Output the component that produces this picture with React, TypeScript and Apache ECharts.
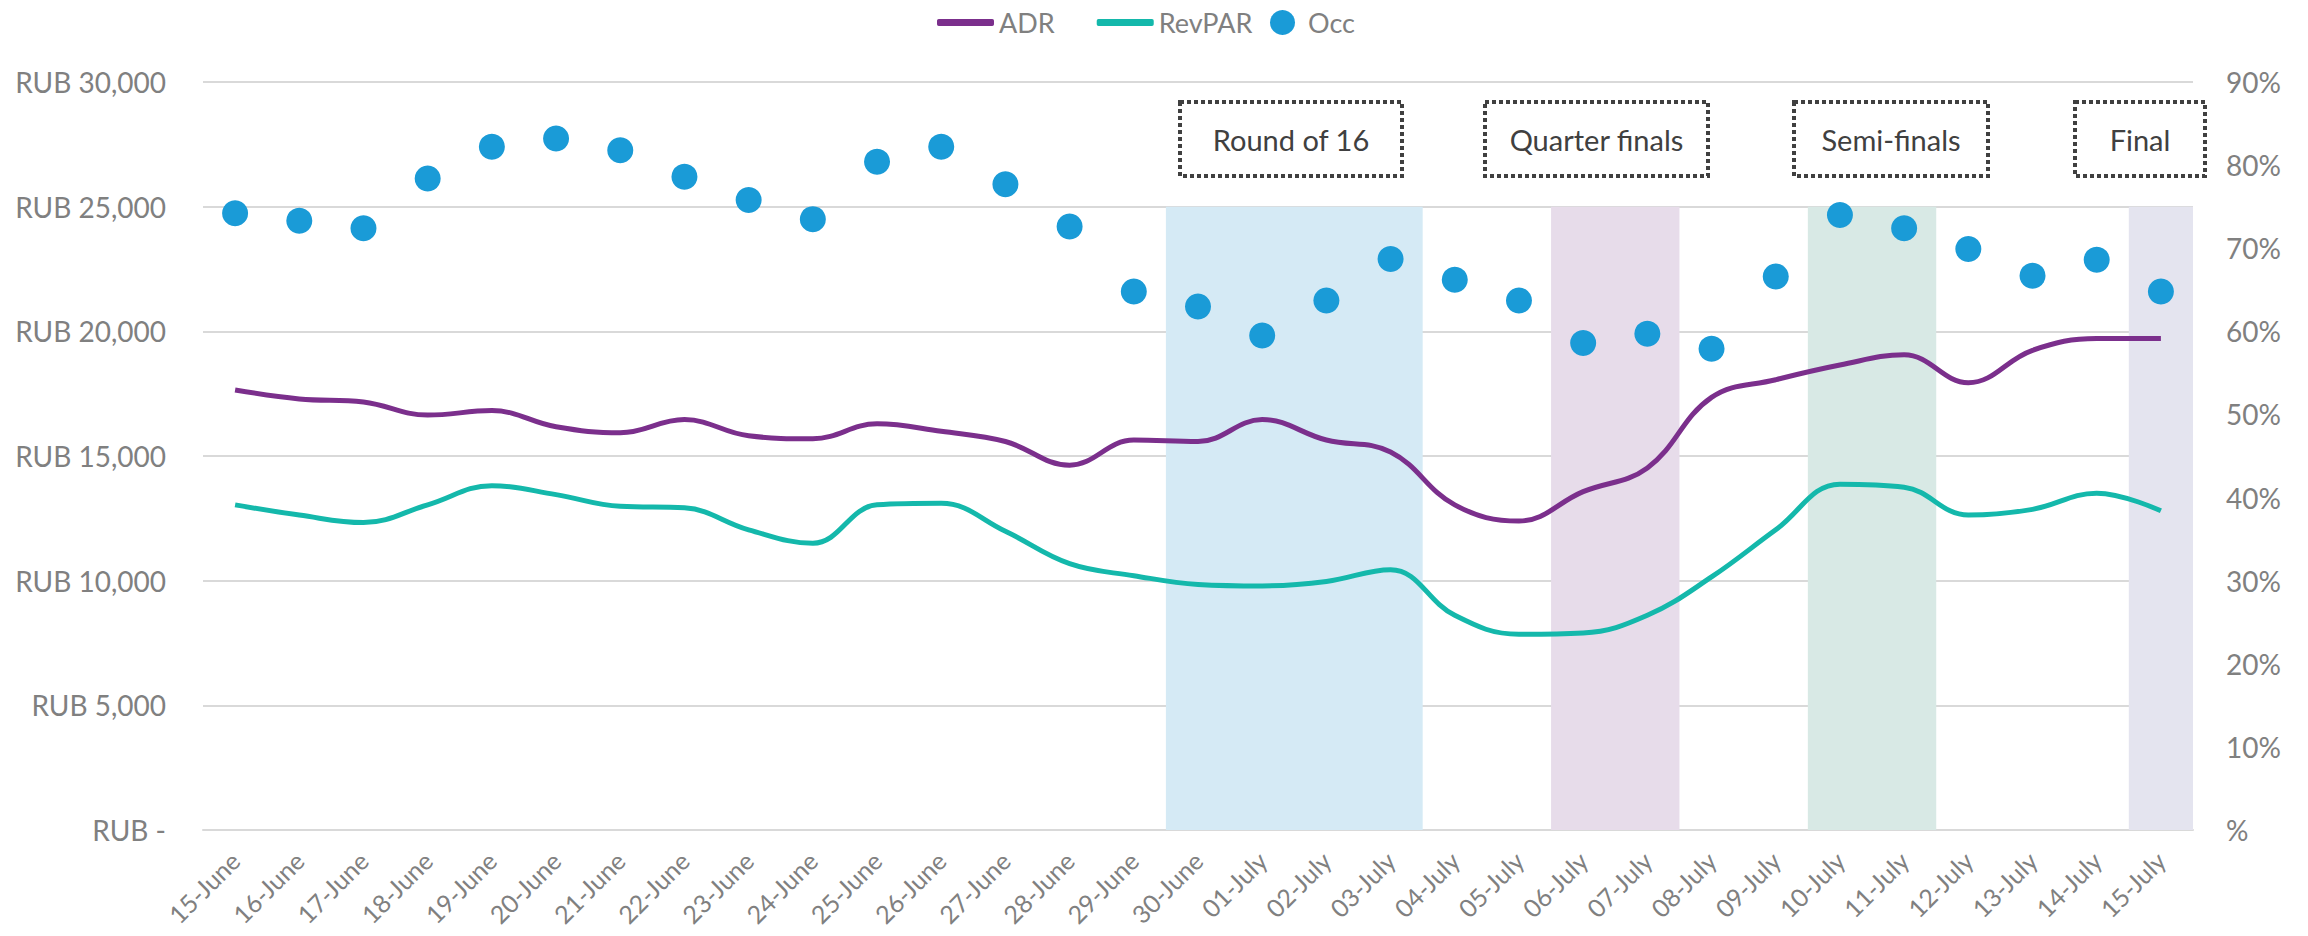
import React, { useEffect, useRef } from 'react';
import * as echarts from 'echarts';

const categories = [
  '15-June', '16-June', '17-June', '18-June', '19-June', '20-June', '21-June', '22-June',
  '23-June', '24-June', '25-June', '26-June', '27-June', '28-June', '29-June', '30-June',
  '01-July', '02-July', '03-July', '04-July', '05-July', '06-July', '07-July', '08-July',
  '09-July', '10-July', '11-July', '12-July', '13-July', '14-July', '15-July',
];

const adr = [
  17650, 17290, 17170, 16640, 16820, 16170, 15930, 16460, 15810, 15690, 16290, 15990,
  15580, 14630, 15640, 15580, 16460, 15640, 15160, 13040, 12390, 13570, 14520, 17350,
  18060, 18650, 19060, 17940, 19240, 19710, 19710,
];

const revpar = [
  13040, 12630, 12330, 13040, 13810, 13450, 12980, 12920, 12040, 11500, 13040, 13100,
  11980, 10680, 10200, 9850, 9790, 9970, 10440, 8610, 7850, 7900, 8610, 10150,
  12040, 13870, 13750, 12630, 12860, 13510, 12800,
];

const occ = [
  74.2, 73.3, 72.4, 78.4, 82.2, 83.2, 81.8, 78.6, 75.8, 73.5, 80.4, 82.2,
  77.7, 72.6, 64.8, 63.0, 59.5, 63.7, 68.7, 66.2, 63.7, 58.6, 59.7, 57.9,
  66.6, 74.0, 72.4, 69.9, 66.7, 68.6, 64.8,
];

const phaseNames = ['Round of 16', 'Quarter finals', 'Semi-finals', 'Final'];
const phaseStart = ['30-June', '06-July', '10-July', '15-July'];
const phaseEnd = ['03-July', '07-July', '11-July', '15-July'];
const phaseTop = 25000;

const leftTicks = { min: 0, max: 30000, interval: 5000 };
const rightTicks = { min: 0, max: 90, interval: 10 };

// styling / layout (not data)
const phaseColors = ['#d5eaf5', '#e7dcea', '#d8e9e5', '#e4e4ef'];
const boxLayout = [
  { x: 1180, w: 222 },
  { x: 1485, w: 223 },
  { x: 1794, w: 194 },
  { x: 2075, w: 130 },
];
const BOX_Y = 102;
const BOX_H = 74;
const FONT = 'Lato, "Noto Sans", sans-serif';
const GRAY = '#808080';

export default function App() {
  const ref = useRef<HTMLDivElement>(null);

  useEffect(() => {
    if (!ref.current) return;
    const chart = echarts.init(ref.current, undefined, { renderer: 'svg' });

    const markData = phaseNames.map((name, i) => {
      const s = categories.indexOf(phaseStart[i]);
      const e = categories.indexOf(phaseEnd[i]);
      return [
        { name, xAxis: s, yAxis: 0, itemStyle: { color: phaseColors[i] } },
        { xAxis: e + 1, yAxis: phaseTop },
      ];
    });

    const graphic: any[] = [];
    phaseNames.forEach((name, i) => {
      const b = boxLayout[i];
      graphic.push({
        type: 'rect',
        shape: { x: b.x, y: BOX_Y, width: b.w, height: BOX_H },
        style: { fill: 'rgba(255,255,255,0)', stroke: '#404040', lineWidth: 4, lineDash: [4, 3] },
        z: 10,
      });
      graphic.push({
        type: 'text',
        x: b.x + b.w / 2,
        y: BOX_Y + BOX_H / 2,
        style: {
          text: name,
          fill: '#404040',
          font: `29px ${FONT}`,
          align: 'center',
          verticalAlign: 'middle',
          textAlign: 'center',
          textVerticalAlign: 'middle',
        },
        z: 10,
      });
    });

    chart.setOption({
      animation: false,
      backgroundColor: '#ffffff',
      textStyle: { fontFamily: FONT },
      legend: [
        {
          data: [
            { name: 'ADR', icon: 'roundRect', itemStyle: { color: '#7b2f8c' } },
            { name: 'RevPAR', icon: 'roundRect', itemStyle: { color: '#14b8ab' } },
          ],
          left: 932,
          top: 4,
          itemWidth: 57,
          itemHeight: 7,
          itemGap: 42,
          textStyle: { color: GRAY, fontSize: 27, fontFamily: FONT },
        },
        {
          data: ['Occ'],
          left: 1265,
          top: 4,
          itemWidth: 25,
          itemHeight: 25,
          icon: 'circle',
          textStyle: { color: GRAY, fontSize: 27, fontFamily: FONT, padding: [0, 0, 0, 8] },
        },
      ],
      grid: {
        left: 203,
        right: 115,
        top: 82,
        bottom: 106,
        containLabel: false,
        outerBoundsMode: 'none',
      },
      xAxis: [
        {
          type: 'category',
          data: categories,
          boundaryGap: true,
          axisLine: { lineStyle: { color: '#d9d9d9', width: 2 } },
          axisTick: { show: false },
          axisLabel: {
            rotate: 45,
            interval: 0,
            margin: 26,
            color: GRAY,
            fontSize: 25,
            fontFamily: FONT,
          },
          splitLine: { show: false },
        },
        {
          type: 'value',
          min: 0,
          max: categories.length,
          show: false,
        },
      ],
      yAxis: [
        {
          type: 'value',
          ...leftTicks,
          axisLine: { show: false },
          axisTick: { show: false },
          splitLine: { lineStyle: { color: '#d9d9d9', width: 2 } },
          axisLabel: {
            margin: 37,
            color: GRAY,
            fontSize: 28,
            fontFamily: FONT,
            formatter: (v: number) => (v === 0 ? 'RUB -' : 'RUB ' + v.toLocaleString('en-US')),
          },
        },
        {
          type: 'value',
          ...rightTicks,
          position: 'right',
          axisLine: { show: false },
          axisTick: { show: false },
          splitLine: { show: false },
          axisLabel: {
            margin: 33,
            color: GRAY,
            fontSize: 28,
            fontFamily: FONT,
            formatter: (v: number) => (v === 0 ? '%' : v + '%'),
          },
        },
      ],
      series: [
        {
          name: 'phases',
          type: 'line',
          xAxisIndex: 1,
          yAxisIndex: 0,
          data: [],
          silent: true,
          markArea: {
            silent: true,
            label: { show: false },
            data: markData,
          },
        },
        {
          name: 'ADR',
          type: 'line',
          data: adr,
          smooth: 0.4,
          symbol: 'none',
          lineStyle: { color: '#7b2f8c', width: 5 },
          itemStyle: { color: '#7b2f8c' },
          z: 3,
        },
        {
          name: 'RevPAR',
          type: 'line',
          data: revpar,
          smooth: 0.4,
          symbol: 'none',
          lineStyle: { color: '#14b8ab', width: 5 },
          itemStyle: { color: '#14b8ab' },
          z: 3,
        },
        {
          name: 'Occ',
          type: 'scatter',
          yAxisIndex: 1,
          data: occ,
          symbolSize: 26,
          itemStyle: { color: '#1a9bd7', opacity: 1 },
          z: 4,
        },
      ],
      graphic,
    });

    return () => chart.dispose();
  }, []);

  return (
    <div
      ref={ref}
      style={{ position: 'fixed', left: 0, top: 0, width: 2308, height: 936, background: '#fff' }}
    />
  );
}
